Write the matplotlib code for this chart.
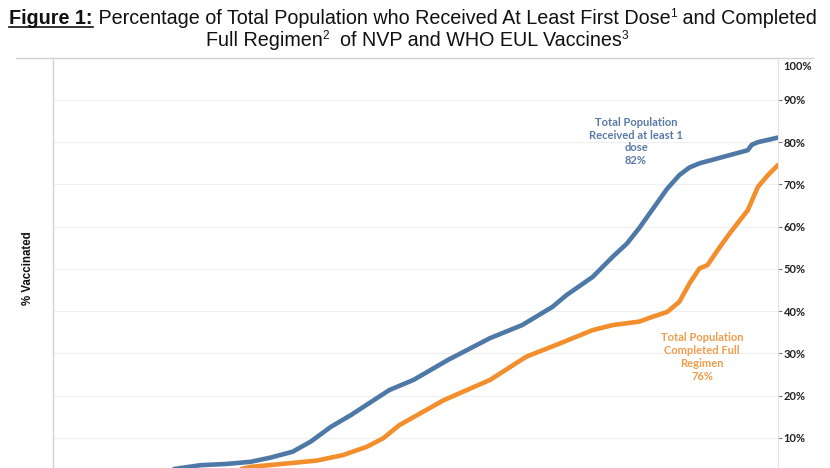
import matplotlib
matplotlib.use('Agg')
import matplotlib.pyplot as plt
from matplotlib.lines import Line2D

# ---- data (day index from start of campaign, % of total population) ----
first_dose_days = [0, 23, 48, 63, 73, 86, 98, 108, 119, 128, 138, 148, 157, 167, 179,
                   196, 217, 233, 248, 255, 268, 278, 285, 291, 298, 305, 311, 316, 321,
                   328, 345, 347, 350, 360]
first_dose_pct = [0.0, 0.5, 1.8, 2.8, 3.5, 3.8, 4.3, 5.3, 6.7, 9.1, 12.6, 15.4, 18.2,
                  21.3, 23.7, 28.4, 33.6, 36.7, 41.0, 43.8, 48.1, 52.9, 56.0, 59.6,
                  64.3, 69.0, 72.2, 74.0, 75.0, 75.9, 78.1, 79.4, 80.0, 81.1]

full_days = [60, 73, 88, 98, 118, 131, 144, 156, 164, 172, 194, 217, 235, 252, 268,
             278, 291, 298, 305, 311, 316, 321, 325, 330, 336, 345, 350, 355, 360]
full_pct = [0.0, 0.5, 2.0, 3.1, 4.0, 4.6, 5.9, 7.9, 9.9, 13.0, 18.9, 23.7, 29.2, 32.4,
            35.5, 36.7, 37.5, 38.7, 39.8, 42.2, 46.5, 50.1, 50.9, 54.4, 58.4, 63.9,
            69.4, 72.2, 74.6]

ytick_vals = [10, 20, 30, 40, 50, 60, 70, 80, 90]
ytick_labels = [f"{v}%" for v in ytick_vals]

BLUE = '#4e79a7'
ORANGE = '#f28e2b'

W, H = 830, 468
fig = plt.figure(figsize=(W / 100, H / 100), dpi=100)
ax = fig.add_axes([53 / W, (H - 480) / H, (778 - 53) / W, (480 - 57.75) / H])

ax.plot(first_dose_days, first_dose_pct, color=BLUE, lw=3.3, solid_joinstyle='round',
        solid_capstyle='round', zorder=3)
ax.plot(full_days, full_pct, color=ORANGE, lw=3.3, solid_joinstyle='round',
        solid_capstyle='round', zorder=3)

ax.set_xlim(0, 360)
ax.set_ylim(0, 100)
ax.set_xticks([])
ax.yaxis.tick_right()
ax.set_yticks(ytick_vals)
ax.set_yticklabels(ytick_labels)
ax.tick_params(axis='y', length=3, width=0.8, color='#777777', pad=1,
               labelsize=8, labelcolor='#222222')
for lbl in ax.get_yticklabels():
    lbl.set_fontfamily('Lato')
    lbl.set_fontweight('bold')
ax.grid(axis='y', color='#efefef', lw=0.8, zorder=0)
for s in ['top', 'bottom']:
    ax.spines[s].set_visible(False)
ax.spines['left'].set_color('#d2d2d2')
ax.spines['left'].set_linewidth(1.0)
ax.spines['right'].set_color('#e2e2e2')
ax.spines['right'].set_linewidth(0.8)

ax.annotate('100%', xy=(1, 100), xycoords=('axes fraction', 'data'),
            xytext=(5, -9), textcoords='offset pixels', ha='left', va='center',
            fontsize=8, family='Lato', fontweight='bold', color='#222222')

# top border of the worksheet
fig.add_artist(Line2D([16 / W, 813 / W], [1 - 57.5 / H, 1 - 57.5 / H],
                      color='#d2d2d2', lw=1.0, transform=fig.transFigure))

# y label
fig.text(28 / W, 1 - 268 / H, '% Vaccinated', rotation=90, ha='center', va='center',
         fontsize=8.3, fontweight='bold', family='Liberation Sans', color='#111111')

# annotations
fig.text(636 / W, 1 - 141.5 / H, 'Total Population\nReceived at least 1\ndose\n82%',
         ha='center', va='center', fontsize=8, family='Lato', fontweight='bold',
         color='#5a7aa3', linespacing=1.22, multialignment='center')
fig.text(702 / W, 1 - 357 / H, 'Total Population\nCompleted Full\nRegimen\n76%',
         ha='center', va='center', fontsize=8, family='Lato', fontweight='bold',
         color='#ee9d4c', linespacing=1.22, multialignment='center')

# title, built from pieces so superscripts can be placed
renderer = fig.canvas.get_renderer()
TS = 14.2
SS = 8.6


def title_line(pieces, cx, baseline):
    texts = []
    for txt, size, weight, rise in pieces:
        t = fig.text(0, 0, txt, fontsize=size, fontweight=weight,
                     family='Liberation Sans', va='baseline', ha='left', color='#111111')
        texts.append((t, rise))
    widths = [t.get_window_extent(renderer).width for t, _ in texts]
    x = cx - sum(widths) / 2
    for (t, rise), w in zip(texts, widths):
        t.set_position((x / W, 1 - (baseline - rise) / H))
        x += w
    return [t for t, _ in texts], widths


line1, w1 = title_line([('Figure 1:', TS, 'bold', 0),
                        (' Percentage of Total Population who Received At Least First Dose', TS, 'normal', 0),
                        ('1', SS, 'normal', 7),
                        (' and Completed', TS, 'normal', 0)], 413, 24)
line2, w2 = title_line([('Full Regimen', TS, 'normal', 0),
                        ('2', SS, 'normal', 7),
                        ('  of NVP and WHO EUL Vaccines', TS, 'normal', 0),
                        ('3', SS, 'normal', 7)], 417, 46)

# underline "Figure 1:"
bb = line1[0].get_window_extent(renderer)
fig.add_artist(Line2D([bb.x0 / W, bb.x1 / W], [1 - 26.5 / H, 1 - 26.5 / H],
                      color='#111111', lw=1.2, transform=fig.transFigure))

fig.savefig('out.png', dpi=100)
